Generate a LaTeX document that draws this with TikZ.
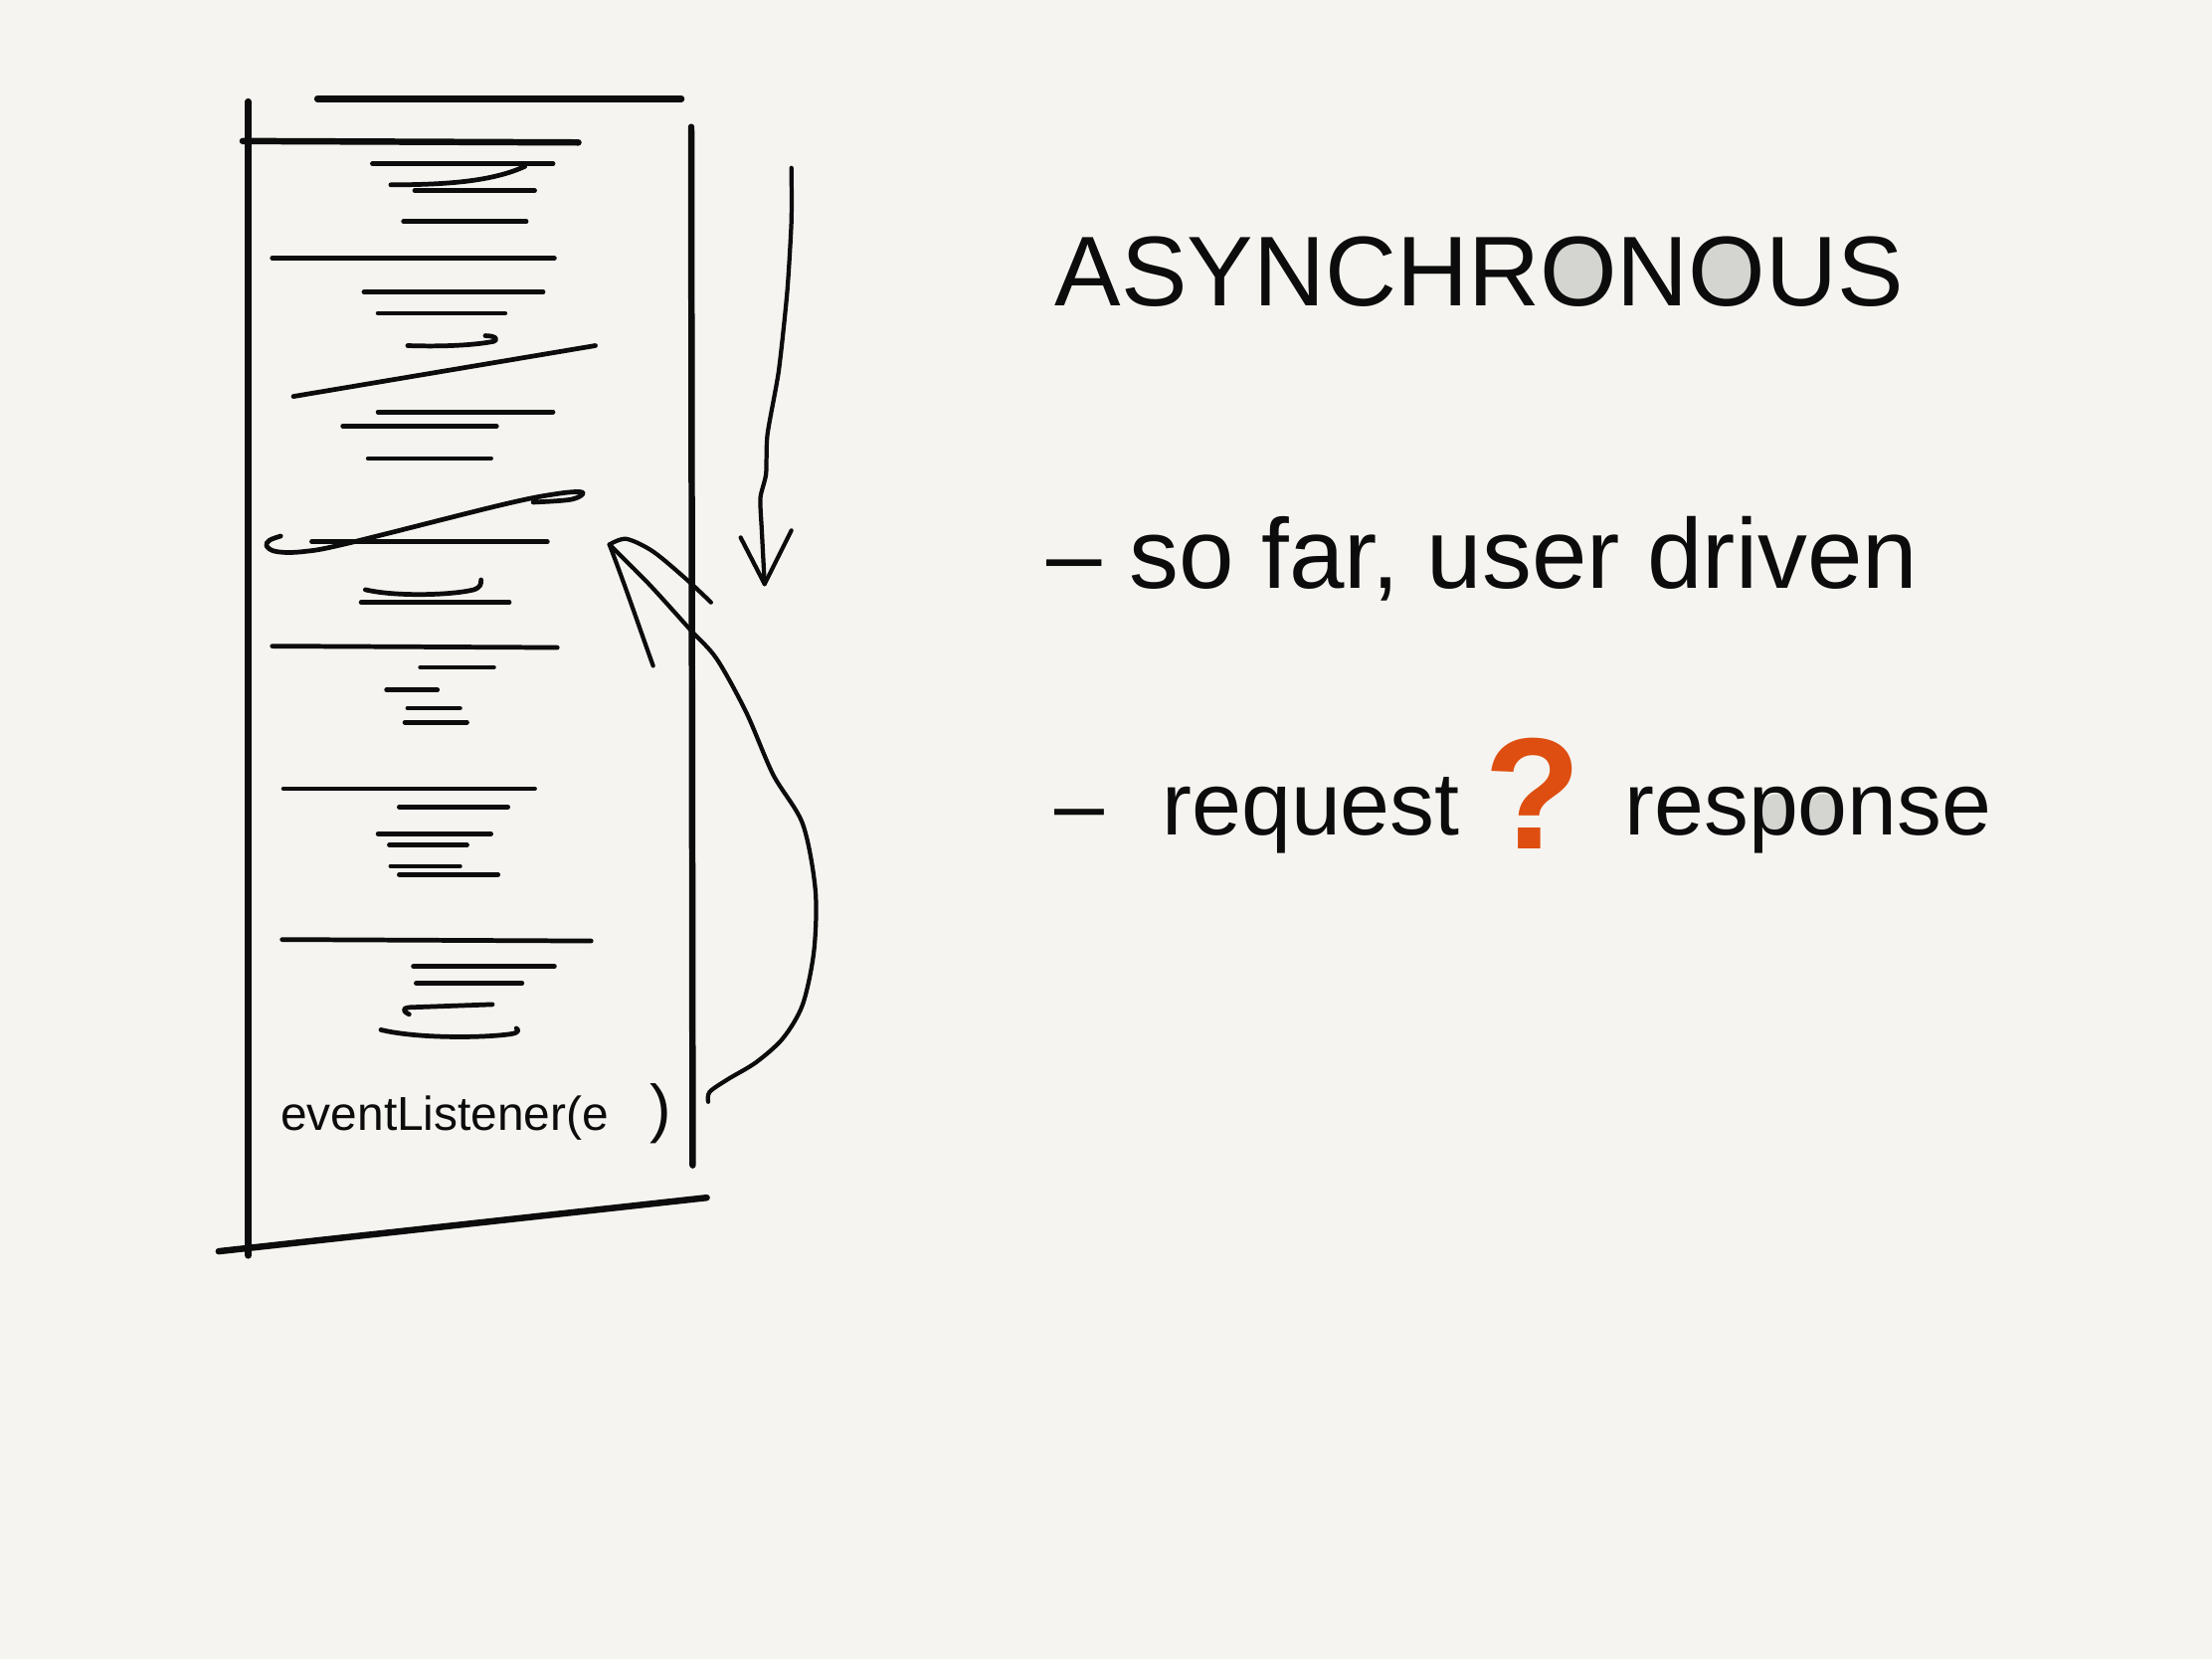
\documentclass[tikz,border=0pt]{standalone}
\usepackage{fontspec}
\setmainfont{Liberation Sans}
\usetikzlibrary{calc}
\pgfdeclarelayer{paperlayer}
\pgfdeclarelayer{filllayer}
\pgfsetlayers{paperlayer,filllayer,main}
\definecolor{paper}{RGB}{245,244,240}
\definecolor{ink}{RGB}{12,12,12}
\definecolor{qorange}{RGB}{222,78,16}
\definecolor{ofill}{RGB}{212,212,208}
\newcommand\titlesize{\fontsize{20pt}{24pt}\selectfont}
\newcommand\linesize{\fontsize{20pt}{24pt}\selectfont}
\newcommand\reqsize{\fontsize{18pt}{22pt}\selectfont}
\newcommand\codesize{\fontsize{9.6pt}{12pt}\selectfont}
\begin{document}
\begin{tikzpicture}[x=0.1mm,y=-0.1mm,
  inkline/.style={draw=ink, line cap=round, line join=round},
  boxline/.style={inkline, line width=1.3pt},
  rule/.style={inkline, line width=0.95pt},
  pen/.style={inkline, line width=0.85pt},
  hand/.style={inner sep=0pt, outer sep=0pt, text=ink},
  counter/.style={fill=ofill}]
\begin{pgfonlayer}{paperlayer}
\fill[paper] (0,0) rectangle (1568,1176);
\end{pgfonlayer}
\useasboundingbox (0,0) rectangle (1568,1176);

% ---------- the page / box ----------
\draw[boxline] (225,70) -- (483,70);
\draw[boxline] (176,72) -- (176,890);
\draw[boxline] (172,100) -- (410,101);
\draw[boxline] (490,90) -- (491,826);
\draw[boxline] (155,887) -- (501,849);

% ---------- scribbled lines of code ----------
\draw[rule] (264,116) -- (392,116);
\draw[rule] (277,131) .. controls (320,131) and (350,128) .. (372,118);
\draw[rule] (294,135) -- (379,135);
\draw[rule] (286,157) -- (373,157);
\draw[rule] (193,183) -- (393,183);
\draw[rule] (258,207) -- (385,207);
\draw[rule] (268,222) -- (358,222);
\draw[rule] (289,245) .. controls (320,246) and (340,244) .. (350,242) .. controls (354,240) and (350,238) .. (344,238);
\draw[rule] (208,281) -- (422,245);
\draw[rule] (268,292) -- (392,292);
\draw[rule] (243,302) -- (352,302);
\draw[rule] (261,325) -- (348,325);
\draw[rule] plot[smooth, tension=0.6] coordinates {(199,380) (191,383) (189,387) (196,391) (215,391) (247,385) (355,358) (395,350) (413,349) (405,354) (378,356)};
\draw[rule] (221,384) -- (388,384);
\draw[rule] (259,418) .. controls (280,423) and (320,422) .. (336,418) .. controls (341,416) and (341,414) .. (341,411);
\draw[rule] (256,427) -- (361,427);
\draw[rule] (193,458) -- (395,459);
\draw[rule] (298,473) -- (350,473);
\draw[rule] (274,489) -- (310,489);
\draw[rule] (289,502) -- (326,502);
\draw[rule] (287,512) -- (331,512);
\draw[rule] (201,559) -- (379,559);
\draw[rule] (283,572) -- (360,572);
\draw[rule] (268,591) -- (348,591);
\draw[rule] (276,599) -- (331,599);
\draw[rule] (277,614) -- (326,614);
\draw[rule] (283,620) -- (353,620);
\draw[rule] (200,666) -- (419,667);
\draw[rule] (293,685) -- (393,685);
\draw[rule] (295,697) -- (370,697);
\draw[rule] (290,719) .. controls (284,716) and (286,714) .. (293,714) -- (349,712);
\draw[rule] (270,730) .. controls (295,736) and (340,736) .. (362,733) .. controls (368,732) and (368,730) .. (366,729);

% ---------- arrows ----------
\draw[pen] plot[smooth, tension=0.4] coordinates {(561,119) (561,157) (558,207) (552,263) (544,308) (543,336) (539,353) (540,376) (542,414)};
\draw[pen] (525,381) -- (542,414) -- (561,376);
\draw[pen] plot[smooth, tension=0.5] coordinates {(502,781) (503,774) (516,765) (536,753) (555,736) (569,712) (577,674) (578,631) (569,584) (548,549) (529,505) (508,467) (489,446) (460,414) (432,386)};
\draw[pen] (432,386) .. controls (445,420) and (455,450) .. (463,472);
\draw[pen] plot[smooth, tension=0.5] coordinates {(432,386) (444,382) (463,391) (487,411) (504,427)};

% ---------- title ----------
\node[hand, anchor=base west, font=\titlesize] (title) at (748,217) {ASYNCHRONOUS};
\begin{pgfonlayer}{filllayer}
\fill[counter] ([yshift=7.3pt]$(title.base west)!0.6169!(title.base east)$) ellipse [x radius=5.2pt, y radius=5.9pt];
\fill[counter] ([yshift=7.3pt]$(title.base west)!0.7922!(title.base east)$) ellipse [x radius=5.2pt, y radius=5.9pt];
\end{pgfonlayer}

% ---------- bullet lines ----------
\node[hand, anchor=base west, font=\linesize] (l1) at (742,417) {– so far, user driven};

\node[hand, anchor=base west, font=\reqsize] (l2) at (748,592) {–\hspace{2.3mm} request {\color{qorange}\fontsize{32pt}{32pt}\selectfont\bfseries\raisebox{-1mm}{?}}\hspace{1.3mm} response};
\begin{pgfonlayer}{filllayer}
\fill[counter] ([xshift=-43.4pt, yshift=4.7pt]l2.base east) ellipse [x radius=3.2pt, y radius=3.6pt];
\fill[counter] ([xshift=-34.0pt, yshift=4.7pt]l2.base east) ellipse [x radius=3.3pt, y radius=3.6pt];
\end{pgfonlayer}

% ---------- code text ----------
\node[hand, anchor=base west, font=\codesize] (code) at (199,801) {eventListener(e \hspace{2mm}{\fontsize{13pt}{13pt}\selectfont )}};
\end{tikzpicture}
\end{document}
